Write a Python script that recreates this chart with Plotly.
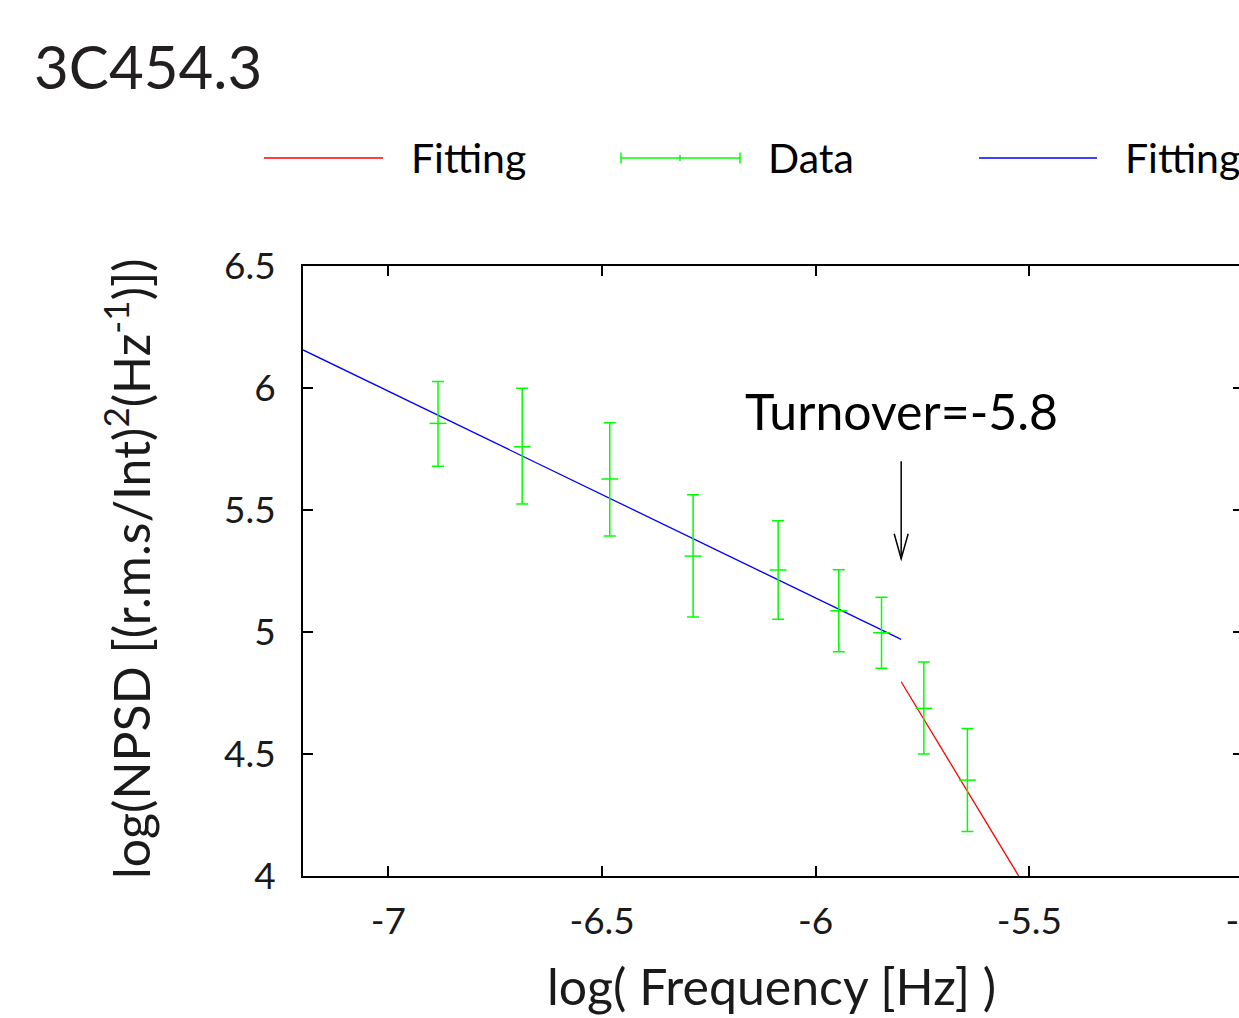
import plotly.graph_objects as go

# ---------------- data ----------------
title_text = "3C454.3"
freq = [-6.884, -6.687, -6.482, -6.287, -6.088, -5.946, -5.846, -5.747, -5.645]
npsd = [5.855, 5.759, 5.627, 5.311, 5.254, 5.087, 4.997, 4.687, 4.393]
err_up = [0.172, 0.240, 0.231, 0.252, 0.202, 0.168, 0.145, 0.190, 0.212]
err_down = [0.176, 0.234, 0.234, 0.250, 0.202, 0.168, 0.146, 0.187, 0.211]
fit_low_x = [-7.2, -5.8]
fit_low_y = [6.156, 4.970]
fit_high_x = [-5.8, -5.525]
fit_high_y = [4.796, 4.0]
x_tickvals = [-7, -6.5, -6, -5.5, -5]
x_ticktext = ["-7", "-6.5", "-6", "-5.5", "-5"]
y_tickvals = [4, 4.5, 5, 5.5, 6, 6.5]
y_ticktext = ["4", "4.5", "5", "5.5", "6", "6.5"]
x_range = [-7.2, -5.0]
y_range = [4.0, 6.5]
turnover_x = -5.8
arrow_y_start = 5.70
arrow_y_end = 5.30
turnover_label = "Turnover=-5.8"
legend_labels = ["Fitting", "Data", "Fitting"]
x_title = "log( Frequency [Hz] )"
y_title = "log(NPSD [(r.m.s/Int)<sup>2</sup>(Hz<sup>-1</sup>)])"

# ---------------- layout constants ----------------
FIG_W, FIG_H = 1300, 1018
ML, MR, MT, MB = 303, 57, 266, 142
PW = FIG_W - ML - MR
PH = FIG_H - MT - MB
FONT = "Lato"
TXT = "#1a1a1a"
GREEN = "#00ff00"


def px(p):
    return (p - ML) / PW


def py(p):
    return (FIG_H - MB - p) / PH


fig = go.Figure()

fig.add_trace(go.Scatter(
    x=fit_low_x, y=fit_low_y, mode="lines",
    line=dict(color="#0000ff", width=1.3), showlegend=False, hoverinfo="skip"))
fig.add_trace(go.Scatter(
    x=fit_high_x, y=fit_high_y, mode="lines",
    line=dict(color="#ff0000", width=1.3), showlegend=False, hoverinfo="skip"))
fig.add_trace(go.Scatter(
    x=freq, y=npsd, mode="markers",
    marker=dict(symbol="line-ew", size=12, color=GREEN,
                line=dict(color=GREEN, width=1.5)),
    error_y=dict(type="data", symmetric=False, array=err_up, arrayminus=err_down,
                 color=GREEN, thickness=1.5, width=6),
    showlegend=False))

fig.update_xaxes(
    range=x_range, tickvals=x_tickvals, ticktext=x_ticktext,
    showline=True, linecolor="black", linewidth=2, mirror="allticks",
    ticks="inside", ticklen=10, tickwidth=1.5, tickcolor="black",
    showgrid=False, zeroline=False, ticklabelstandoff=12,
    tickfont=dict(family=FONT, size=37, color=TXT))
fig.update_yaxes(
    range=y_range, tickvals=y_tickvals, ticktext=y_ticktext,
    showline=True, linecolor="black", linewidth=2, mirror="allticks",
    ticks="inside", ticklen=10, tickwidth=1.5, tickcolor="black",
    showgrid=False, zeroline=False, ticklabelstandoff=18,
    tickfont=dict(family=FONT, size=37, color=TXT))

shapes = []
# arrow (data coords)
shapes.append(dict(type="line", xref="x", yref="y",
                   x0=turnover_x, x1=turnover_x, y0=arrow_y_start, y1=arrow_y_end,
                   line=dict(color="black", width=1.5)))
head_dx = 7 / PW * (x_range[1] - x_range[0])
head_dy = 25 / PH * (y_range[1] - y_range[0])
shapes.append(dict(type="path", xref="x", yref="y",
                   path=f"M {turnover_x - head_dx},{arrow_y_end + head_dy} L {turnover_x},{arrow_y_end} L {turnover_x + head_dx},{arrow_y_end + head_dy}",
                   line=dict(color="black", width=1.5)))

# legend samples (paper coords)
LY = 158
shapes.append(dict(type="line", xref="paper", yref="paper",
                   x0=px(264), x1=px(383), y0=py(LY), y1=py(LY),
                   line=dict(color="#ff0000", width=1.3)))
shapes.append(dict(type="line", xref="paper", yref="paper",
                   x0=px(621), x1=px(740), y0=py(LY), y1=py(LY),
                   line=dict(color=GREEN, width=1.5)))
for xx in (621, 740):
    shapes.append(dict(type="line", xref="paper", yref="paper",
                       x0=px(xx), x1=px(xx), y0=py(LY - 5.5), y1=py(LY + 5.5),
                       line=dict(color=GREEN, width=1.5)))
shapes.append(dict(type="line", xref="paper", yref="paper",
                   x0=px(680), x1=px(680), y0=py(LY - 3), y1=py(LY + 3),
                   line=dict(color=GREEN, width=1.5)))
shapes.append(dict(type="line", xref="paper", yref="paper",
                   x0=px(979), x1=px(1097), y0=py(LY), y1=py(LY),
                   line=dict(color="#0000ff", width=1.3)))

annotations = []
annotations.append(dict(text=title_text, xref="paper", yref="paper",
                        x=px(32), y=py(66), xanchor="left", yanchor="middle",
                        showarrow=False, font=dict(family=FONT, size=60, color="#231f20")))
for label, lx in zip(legend_labels, (409, 766, 1123)):
    annotations.append(dict(text=label, xref="paper", yref="paper",
                            x=px(lx), y=py(LY - 1), xanchor="left", yanchor="middle",
                            showarrow=False, font=dict(family=FONT, size=41, color="black")))
annotations.append(dict(text=turnover_label, xref="x", yref="paper",
                        x=turnover_x, y=py(411), xanchor="center", yanchor="middle",
                        showarrow=False, font=dict(family=FONT, size=50, color="black")))
annotations.append(dict(text=x_title, xref="paper", yref="paper",
                        x=px(771), y=py(986), xanchor="center", yanchor="middle",
                        showarrow=False, font=dict(family=FONT, size=50, color=TXT)))
annotations.append(dict(text=y_title, xref="paper", yref="paper",
                        x=px(127), y=py(569), xanchor="center", yanchor="middle",
                        textangle=-90,
                        showarrow=False, font=dict(family=FONT, size=50, color=TXT)))

fig.update_layout(
    width=FIG_W, height=FIG_H, autosize=False,
    margin=dict(l=ML, r=MR, t=MT, b=MB, pad=0),
    paper_bgcolor="white", plot_bgcolor="white",
    shapes=shapes, annotations=annotations, showlegend=False)

fig.write_html("out.html", config={"displayModeBar": False},
               post_script="document.body.style.margin='0px';document.body.style.overflow='hidden';")
